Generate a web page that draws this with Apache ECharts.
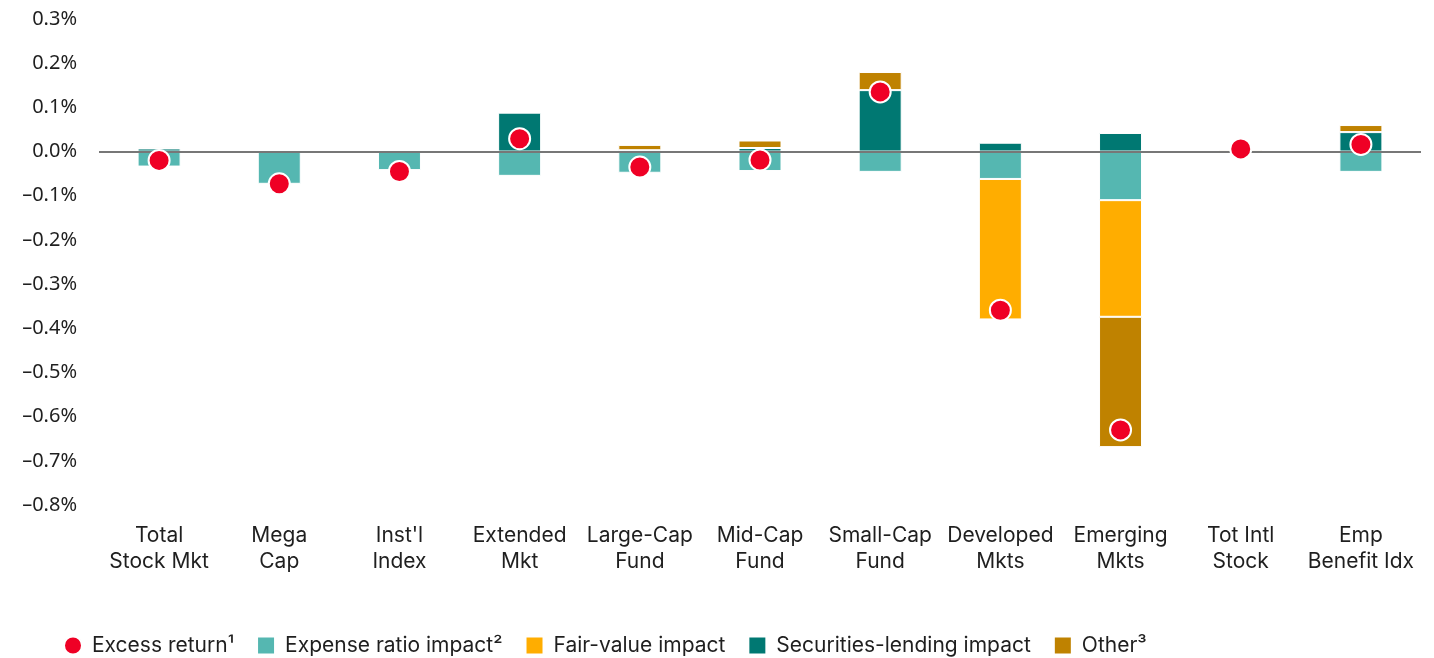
<!DOCTYPE html>
<html>
<head>
<meta charset="utf-8">
<script src="https://cdn.jsdelivr.net/npm/echarts@6/dist/echarts.min.js"></script>
<style>
  html, body { margin: 0; padding: 0; background: #fff; }
  #main { width: 1434px; height: 658px; }
</style>
</head>
<body>
<div id="main"></div>
<script>
// values in percent
const categories = ['Total\nStock Mkt', 'Mega\nCap', "Inst'l\nIndex", 'Extended\nMkt', 'Large-Cap\nFund',
  'Mid-Cap\nFund', 'Small-Cap\nFund', 'Developed\nMkts', 'Emerging\nMkts', 'Tot Intl\nStock', 'Emp\nBenefit Idx']
const expenseRatio = [-0.034, -0.073, -0.042, -0.055, -0.048, -0.044, -0.046, -0.062, -0.110, null, -0.046]
const fairValue = [null, null, null, null, null, null, null, -0.318, -0.264, null, null]
const secLending = [0.007, null, null, 0.088, 0.003, 0.008, 0.139, 0.020, 0.042, null, 0.044]
const other = [0.003, 0.001, null, null, 0.012, 0.017, 0.041, null, -0.295, 0.003, 0.016]
const excessReturn = [-0.020, -0.073, -0.045, 0.029, -0.035, -0.019, 0.135, -0.359, -0.630, 0.006, 0.016]

const font = 'Inter'
const txt = '#1f1f1f'

const chart = echarts.init(document.getElementById('main'))

function barSeries (name, data, color) {
  return {
    name: name,
    type: 'bar',
    stack: 'total',
    barWidth: 43,
    data: data,
    itemStyle: { color: color, borderColor: '#fff', borderWidth: 1 }
  }
}

const expense = barSeries('Expense ratio impact²', expenseRatio, '#55b7b1')
// zero line
expense.markLine = {
  silent: true,
  symbol: 'none',
  label: { show: false },
  lineStyle: { color: '#777', width: 2, type: 'solid' },
  data: [{ yAxis: 0 }],
  z: 3
}

let option = {
  animation: false,
  textStyle: { fontFamily: font },
  grid: { left: 99, right: 13, top: 19, bottom: 153 },
  legend: {
    left: 58,
    top: 630,
    itemWidth: 18,
    itemHeight: 18,
    itemGap: 22,
    textStyle: { fontFamily: font, fontSize: 21, color: txt, padding: [0, 0, 0, 5] },
    data: [
      { name: 'Excess return¹', icon: 'circle' },
      { name: 'Expense ratio impact²', icon: 'rect' },
      { name: 'Fair-value impact', icon: 'rect' },
      { name: 'Securities-lending impact', icon: 'rect' },
      { name: 'Other³', icon: 'rect' }
    ]
  },
  xAxis: {
    type: 'category',
    data: categories,
    axisLine: { show: false },
    axisTick: { show: false },
    axisLabel: {
      interval: 0,
      margin: 18,
      fontFamily: font,
      fontSize: 21,
      lineHeight: 26,
      color: txt
    }
  },
  yAxis: {
    type: 'value',
    min: -0.8,
    max: 0.3,
    interval: 0.1,
    splitLine: { show: false },
    axisLine: { show: false },
    axisTick: { show: false },
    axisLabel: {
      margin: 22,
      fontFamily: 'Noto Sans',
      fontSize: 20,
      color: txt,
      formatter: v => v.toFixed(1).replace('-', '–') + '%'
    }
  },
  series: [
    expense,
    barSeries('Fair-value impact', fairValue, '#ffad00'),
    barSeries('Securities-lending impact', secLending, '#007872'),
    barSeries('Other³', other, '#bf8200'),
    {
      name: 'Excess return¹',
      type: 'scatter',
      data: excessReturn,
      symbol: 'circle',
      symbolSize: 21,
      z: 5,
      itemStyle: { color: '#ef0025', borderColor: '#fff', borderWidth: 2, opacity: 1 }
    }
  ]
}

chart.setOption(option)
</script>
</body>
</html>
